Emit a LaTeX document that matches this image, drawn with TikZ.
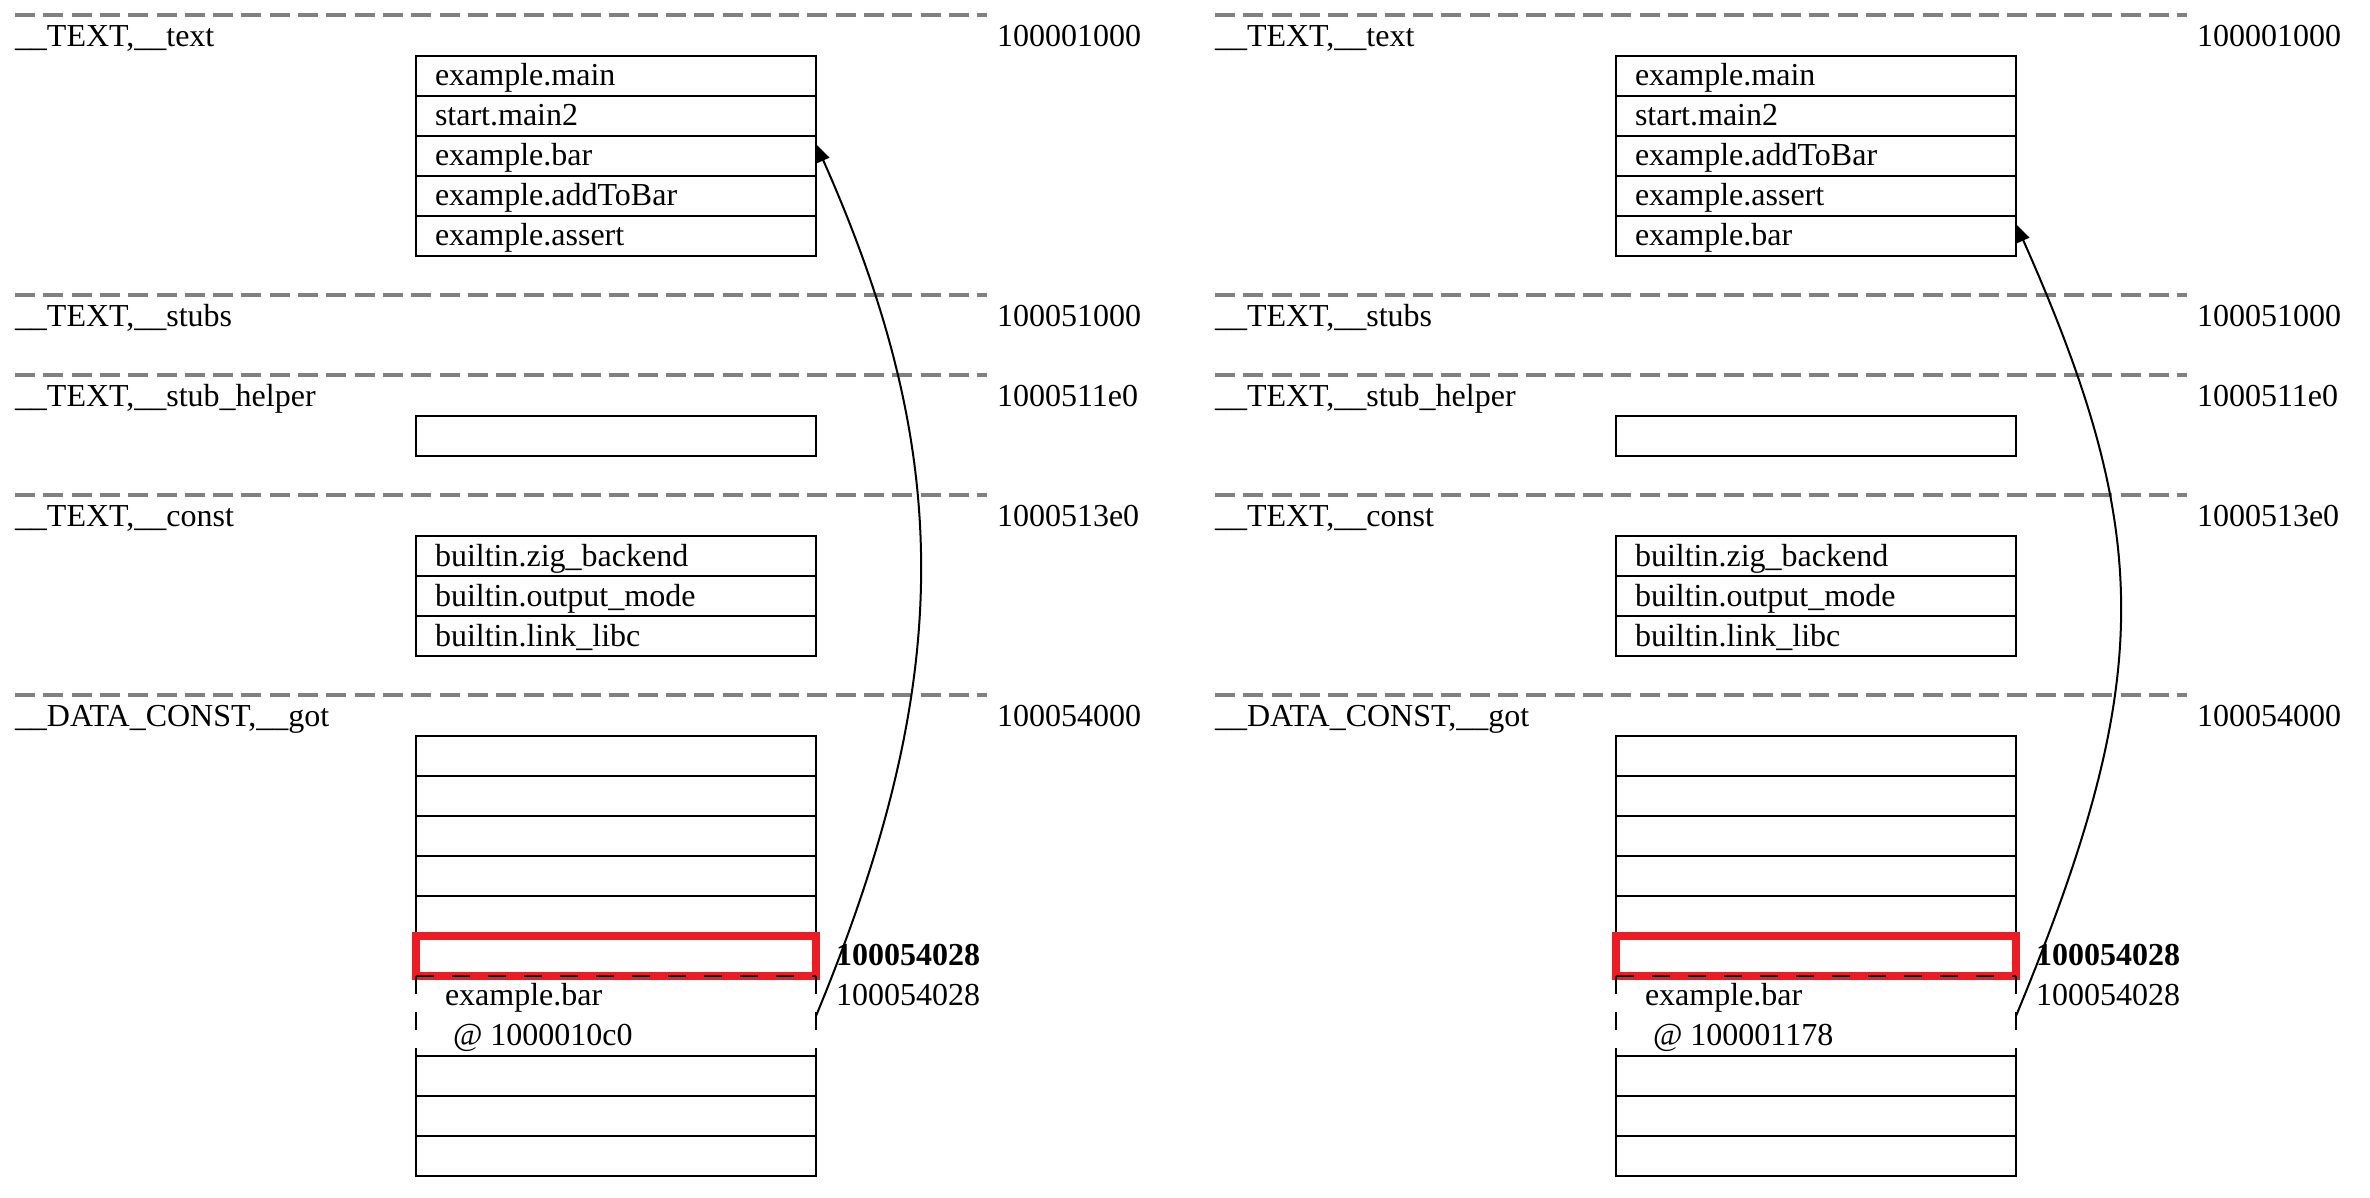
\documentclass[tikz,border=0pt]{standalone}
\usepackage{fontspec}
\setmainfont{Liberation Serif}
\usetikzlibrary{arrows.meta}
\definecolor{sepgray}{RGB}{128,128,128}
\definecolor{hired}{RGB}{237,28,36}
\tikzset{
  every node/.style={font=\fontsize{32pt}{38pt}\selectfont},
  sepline/.style={draw=sepgray, line width=3.5pt, dash pattern=on 20pt off 8.3pt},
  cell/.style={draw=black, line width=2pt, anchor=north west, minimum width=400pt,
    minimum height=40pt, inner xsep=19pt, inner ysep=0pt, outer sep=0pt,
    text width=362pt, text height=26pt, text depth=6pt, align=left},
  gapbox/.style={anchor=north west, minimum width=400pt, minimum height=80pt,
    inner sep=0pt, outer sep=0pt},
  gapline/.style={draw=black, line width=2pt, dash pattern=on 18pt off 18pt},
  txt/.style={anchor=base west, inner sep=0pt, outer sep=0pt},
  hilite/.style={draw=hired, line width=7.5pt},
  ptr/.style={draw=black, line width=2pt, -{Triangle[length=18pt,width=13pt]}},
}
% #1 prefix, #2 x offset, #3-#7 __text rows, #8 got address, #9 target row
\newcommand\mkpanel[9]{%
\begin{scope}[xshift=#2pt]
  % section separators
  \draw[sepline] (15,15) -- (987,15);
  \draw[sepline] (15,295) -- (987,295);
  \draw[sepline] (15,375) -- (987,375);
  \draw[sepline] (15,495) -- (987,495);
  \draw[sepline] (15,695) -- (987,695);
  % section names and addresses
  \node[txt] (#1sa) at (15,46.5) {\_\_TEXT,\_\_text};
  \node[txt] (#1aa) at (997,46.5) {100001000};
  \node[txt] (#1sb) at (15,326.5) {\_\_TEXT,\_\_stubs};
  \node[txt] (#1ab) at (997,326.5) {100051000};
  \node[txt] (#1sc) at (15,406.5) {\_\_TEXT,\_\_stub\_helper};
  \node[txt] (#1ac) at (997,406.5) {1000511e0};
  \node[txt] (#1sd) at (15,526.5) {\_\_TEXT,\_\_const};
  \node[txt] (#1ad) at (997,526.5) {1000513e0};
  \node[txt] (#1se) at (15,726.5) {\_\_DATA\_CONST,\_\_got};
  \node[txt] (#1ae) at (997,726.5) {100054000};
  % __text
  \node[cell] (#1t1) at (416,56) {#3};
  \node[cell] (#1t2) at (416,96) {#4};
  \node[cell] (#1t3) at (416,136) {#5};
  \node[cell] (#1t4) at (416,176) {#6};
  \node[cell] (#1t5) at (416,216) {#7};
  % __stub_helper
  \node[cell] (#1h1) at (416,416) {};
  % __const
  \node[cell] (#1c1) at (416,536) {builtin.zig\_backend};
  \node[cell] (#1c2) at (416,576) {builtin.output\_mode};
  \node[cell] (#1c3) at (416,616) {builtin.link\_libc};
  % __got
  \node[cell] (#1g1) at (416,736) {};
  \node[cell] (#1g2) at (416,776) {};
  \node[cell] (#1g3) at (416,816) {};
  \node[cell] (#1g4) at (416,856) {};
  \node[cell] (#1g5) at (416,896) {};
  \node[cell, draw=none] (#1g6) at (416,936) {};
  \node[gapbox] (#1gx) at (416,976) {};
  \node[cell] (#1g8) at (416,1056) {};
  \node[cell] (#1g9) at (416,1096) {};
  \node[cell] (#1g10) at (416,1136) {};
  \draw[hilite] (#1g6.north west) rectangle (#1g6.south east);
  \draw[gapline] (#1gx.north west) -- (#1gx.north east);
  \draw[gapline] (#1gx.north west) -- (#1gx.south west);
  \draw[gapline] (#1gx.north east) -- (#1gx.south east);
  \node[txt] (#1gxa) at (445,1005) {example.bar};
  \node[txt] (#1gxb) at (453,1045) {@ #8};
  \node[txt] (#1pa) at (836,965) {\textbf{100054028}};
  \node[txt] (#1pb) at (836,1005) {100054028};
  % pointer
  \draw[ptr] (#1gx.east) .. controls +(139,-336) and +(139,313) .. ([yshift=12pt]#1#9.east);
\end{scope}}

\begin{document}
\begin{tikzpicture}[x=1pt,y=-1pt]
\useasboundingbox (0,0) rectangle (2370,1198);
\mkpanel{L}{0}{example.main}{start.main2}{example.bar}{example.addToBar}{example.assert}{1000010c0}{t3}
\mkpanel{R}{1200}{example.main}{start.main2}{example.addToBar}{example.assert}{example.bar}{100001178}{t5}
\end{tikzpicture}
\end{document}
